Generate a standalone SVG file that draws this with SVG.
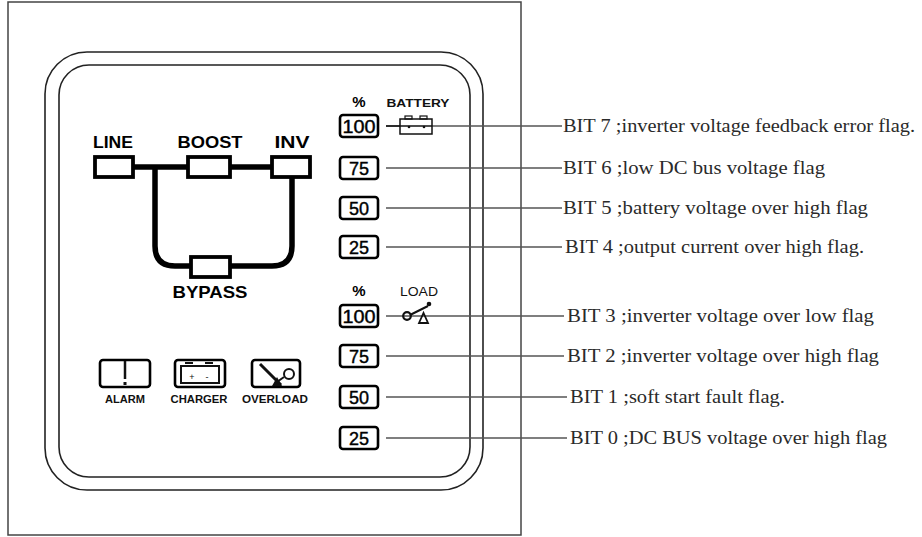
<svg xmlns="http://www.w3.org/2000/svg" width="922" height="537" viewBox="0 0 922 537">
<style>
.frame{fill:none;stroke:#444;stroke-width:1.5}
.panel{fill:none;stroke:#222;stroke-width:1.6}
.pbox{fill:#fff;stroke:#000;stroke-width:2.6}
.ibox{fill:#fff;stroke:#000;stroke-width:3.8}
.sbox{fill:#fff;stroke:#000;stroke-width:2.6}
.thick{fill:none;stroke:#000;stroke-width:5.5}
.lead{fill:none;stroke:#555;stroke-width:1.5}
.lbl{font-family:"Liberation Sans",Arial,sans-serif;font-weight:bold;font-size:17px;fill:#000;text-anchor:middle}
.sm{font-family:"Liberation Sans",Arial,sans-serif;font-weight:bold;font-size:11px;fill:#111;text-anchor:middle}
.num{font-family:"Liberation Sans",Arial,sans-serif;font-size:18px;fill:#000;stroke:#000;stroke-width:0.4;text-anchor:middle}
.pct{font-family:"Liberation Sans",Arial,sans-serif;font-weight:bold;font-size:15px;fill:#000;text-anchor:middle}
.bit{font-family:"Liberation Serif","Times New Roman",serif;font-size:18px;fill:#2a2a2a}
.icon{fill:none;stroke:#111;stroke-width:1.6}
</style>
<rect x="0" y="0" width="922" height="537" fill="#fff"/>
<rect class="frame" x="8" y="2" width="513" height="533"/>
<rect class="panel" x="45" y="52" width="438" height="438" rx="42"/>
<rect class="panel" x="59" y="65" width="411" height="412" rx="30"/>

<g id="connectors">
<path class="thick" d="M133,167 H188"/>
<path class="thick" d="M230,167 H272"/>
<path class="thick" d="M155,167 V246 Q155,266 175,266 H191"/>
<path class="thick" d="M292,177 V246 Q292,266 272,266 H230"/>
<path class="lead" d="M386,126 H562"/>
<path class="lead" d="M386,168 H562"/>
<path class="lead" d="M386,208 H562"/>
<path class="lead" d="M386,247 H562"/>
<path class="lead" d="M386,316 H564"/>
<path class="lead" d="M386,356 H564"/>
<path class="lead" d="M386,397 H567"/>
<path class="lead" d="M386,438 H567"/>
</g>

<g id="line">
<text class="lbl" x="113" y="148" textLength="40" lengthAdjust="spacingAndGlyphs">LINE</text>
<rect class="ibox" x="95" y="157" width="38" height="20"/>
</g>
<g id="boost">
<text class="lbl" x="210" y="148" textLength="65" lengthAdjust="spacingAndGlyphs">BOOST</text>
<rect class="ibox" x="188" y="157" width="42" height="20"/>
</g>
<g id="inv">
<text class="lbl" x="292" y="148" textLength="35" lengthAdjust="spacingAndGlyphs">INV</text>
<rect class="ibox" x="272" y="157" width="38" height="20"/>
</g>
<g id="bypass">
<rect class="ibox" x="191" y="257" width="39" height="20"/>
<text class="lbl" x="210" y="298" textLength="75" lengthAdjust="spacingAndGlyphs">BYPASS</text>
</g>

<g id="alarm">
<rect class="sbox" x="100" y="360" width="50" height="27" rx="3"/>
<path d="M125,361 V379" stroke="#111" stroke-width="2.5"/>
<rect x="123.5" y="382" width="3" height="3" fill="#111"/>
<text class="sm" x="125" y="403" textLength="40" lengthAdjust="spacingAndGlyphs">ALARM</text>
</g>
<g id="charger">
<rect class="sbox" x="175" y="360" width="50" height="27" rx="3"/>
<rect x="181" y="366" width="38" height="17" fill="none" stroke="#111" stroke-width="2"/>
<path d="M185,363 H193 M205,363 H213" stroke="#111" stroke-width="2"/>
<text x="192" y="380" font-family="Liberation Sans,Arial,sans-serif" font-size="9" text-anchor="middle" fill="#111">+</text>
<text x="207" y="380" font-family="Liberation Sans,Arial,sans-serif" font-size="9" text-anchor="middle" fill="#111">-</text>
<text class="sm" x="199" y="403" textLength="57" lengthAdjust="spacingAndGlyphs">CHARGER</text>
</g>
<g id="overload">
<rect class="sbox" x="252" y="360" width="48" height="27" rx="3"/>
<path d="M260,364 L281,385" stroke="#111" stroke-width="3"/>
<path d="M272,386 L277,377 L282,386 Z" fill="#111"/>
<circle cx="289" cy="374" r="5" fill="none" stroke="#111" stroke-width="2"/>
<path d="M284,377 L277,382" stroke="#111" stroke-width="2"/>
<text class="sm" x="275" y="403" textLength="66" lengthAdjust="spacingAndGlyphs">OVERLOAD</text>
</g>

<g id="battery-head">
<text class="pct" x="359" y="107">%</text>
<text class="sm" x="418" y="107" font-size="12" textLength="63" lengthAdjust="spacingAndGlyphs">BATTERY</text>
<rect x="400" y="119" width="32" height="15" fill="#fff" stroke="#111" stroke-width="1.5"/>
<rect x="405" y="116" width="7" height="3" fill="none" stroke="#111" stroke-width="1.2"/>
<rect x="420" y="116" width="7" height="3" fill="none" stroke="#111" stroke-width="1.2"/>
<path class="icon" d="M386,126 H432"/>
<circle cx="409" cy="127" r="1.3" fill="#111"/>
<circle cx="424" cy="127" r="1.3" fill="#111"/>
</g>
<g id="b100"><rect class="pbox" x="340" y="115" width="38" height="22" rx="3"/><text class="num" x="359" y="133" textLength="33" lengthAdjust="spacingAndGlyphs">100</text></g>
<g id="b75"><rect class="pbox" x="340" y="157" width="38" height="22" rx="3"/><text class="num" x="359" y="175">75</text></g>
<g id="b50"><rect class="pbox" x="340" y="197" width="38" height="22" rx="3"/><text class="num" x="359" y="215">50</text></g>
<g id="b25"><rect class="pbox" x="340" y="236" width="38" height="22" rx="3"/><text class="num" x="359" y="254">25</text></g>

<g id="load-head">
<text class="pct" x="359" y="296">%</text>
<text x="419" y="296" font-family="Liberation Sans,Arial,sans-serif" font-size="12" text-anchor="middle" fill="#111" textLength="38" lengthAdjust="spacingAndGlyphs">LOAD</text>
<circle cx="407" cy="316" r="3.8" fill="none" stroke="#111" stroke-width="2.2"/>
<path d="M410,315 L428,306" stroke="#111" stroke-width="2"/>
<circle cx="429" cy="304" r="2.3" fill="#111"/>
<path d="M419,323 L423.5,313 L428,323 Z" fill="none" stroke="#111" stroke-width="1.8"/>
</g>
<g id="l100"><rect class="pbox" x="340" y="305" width="38" height="22" rx="3"/><text class="num" x="359" y="323" textLength="33" lengthAdjust="spacingAndGlyphs">100</text></g>
<g id="l75"><rect class="pbox" x="340" y="345" width="38" height="22" rx="3"/><text class="num" x="359" y="363">75</text></g>
<g id="l50"><rect class="pbox" x="340" y="386" width="38" height="22" rx="3"/><text class="num" x="359" y="404">50</text></g>
<g id="l25"><rect class="pbox" x="340" y="427" width="38" height="22" rx="3"/><text class="num" x="359" y="445">25</text></g>

<g id="bits">
<text class="bit" x="563" y="132" textLength="352" lengthAdjust="spacingAndGlyphs">BIT 7 ;inverter voltage feedback error flag.</text>
<text class="bit" x="563" y="174" textLength="262" lengthAdjust="spacingAndGlyphs">BIT 6 ;low DC bus voltage flag</text>
<text class="bit" x="563" y="214" textLength="305" lengthAdjust="spacingAndGlyphs">BIT 5 ;battery voltage over high flag</text>
<text class="bit" x="565" y="253" textLength="299" lengthAdjust="spacingAndGlyphs">BIT 4 ;output current over high flag.</text>
<text class="bit" x="567" y="322" textLength="307" lengthAdjust="spacingAndGlyphs">BIT 3 ;inverter voltage over low flag</text>
<text class="bit" x="567" y="362" textLength="312" lengthAdjust="spacingAndGlyphs">BIT 2 ;inverter voltage over high flag</text>
<text class="bit" x="570" y="403" textLength="215" lengthAdjust="spacingAndGlyphs">BIT 1 ;soft start fault flag.</text>
<text class="bit" x="570" y="444" textLength="317" lengthAdjust="spacingAndGlyphs">BIT 0 ;DC BUS voltage over high flag</text>
</g>
</svg>
